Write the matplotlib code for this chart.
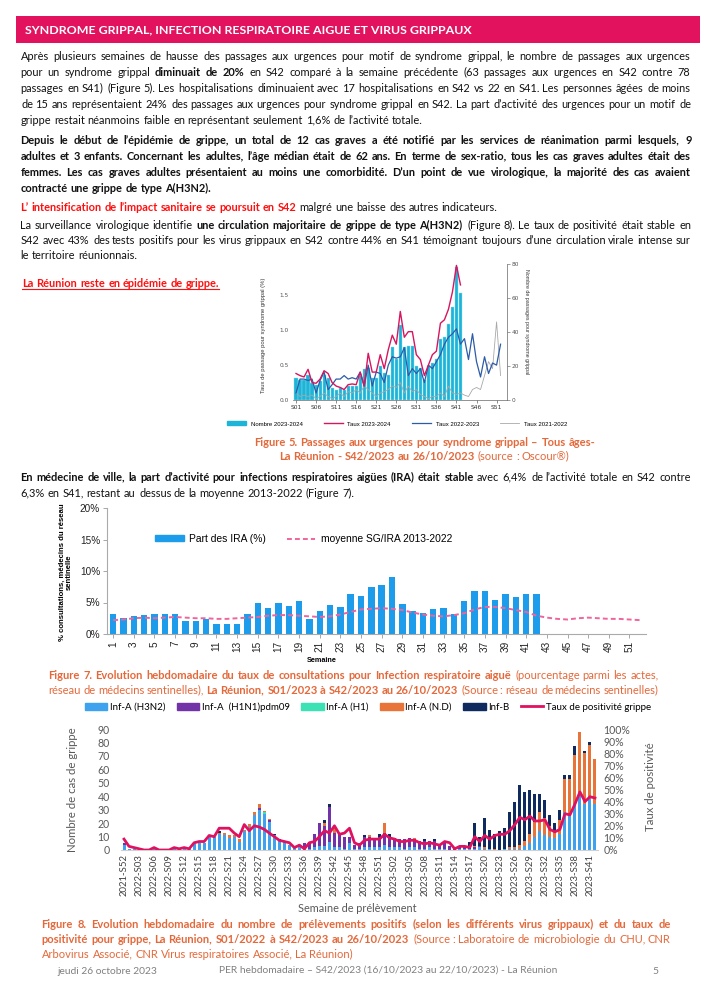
import matplotlib
matplotlib.use("Agg")
import matplotlib.pyplot as plt
import numpy as np
from matplotlib.patches import Rectangle, Patch
from matplotlib.lines import Line2D
from matplotlib.font_manager import FontProperties
from matplotlib.backends.backend_agg import get_hinting_flag

W, H = 707, 1000
BODY = "Lato"
ARIAL = "Liberation Sans"

# ---------------- Figure 5 data (Oscour) ----------------
f5_weeks = list(range(1, 53))
f5_ticks = ["S01", "S06", "S11", "S16", "S21", "S26", "S31", "S36", "S41", "S46", "S51"]
f5_tick_weeks = [1, 6, 11, 16, 21, 26, 31, 36, 41, 46, 51]
nombre_2324 = [13, 12, 12, 15, 10, 9, 11, 15, 13, 7, 6, 7, 6, 8, 8, 8, 14, 18, 19, 13,
               13, 20, 16, 15, 31, 24, 44, 31, 32, 32, 20, 19, 12, 20, 22, 24, 36, 37, 45, 55,
               78, 63]
taux_2324 = [0.38, 0.35, 0.33, 0.44, 0.25, 0.24, 0.30, 0.42, 0.38, 0.25, 0.20, 0.18, 0.15, 0.22,
             0.23, 0.22, 0.40, 0.20, 0.67, 0.40, 0.40, 0.65, 0.45, 0.72, 0.93, 0.80, 1.27, 0.90,
             0.98, 0.98, 0.65, 0.58, 0.35, 0.50, 0.65, 0.70, 1.10, 1.15, 1.30, 1.55, 1.93, 1.65]
taux_2223 = [0.10, 0.30, 0.30, 0.28, 0.30, 0.10, 0.28, 0.40, 0.15, 0.22, 0.30, 0.30, 0.35, 0.30,
             0.32, 0.30, 0.40, 0.20, 0.50, 0.20, 0.40, 0.38, 0.25, 0.50, 0.62, 0.60, 0.62, 0.75,
             0.35, 0.45, 0.38, 0.45, 0.25, 0.50, 0.45, 0.55, 0.65, 0.80, 0.90, 0.95, 1.02, 0.80,
             0.88, 0.58, 0.95, 0.55, 0.33, 0.62, 0.38, 0.53, 0.50, 0.80]
taux_2122 = [0.10, 0.05, 0.07, 0.05, 0.07, 0.02, 0.05, 0.10, 0.05, 0.02, 0.05, 0.10, 0.05, 0.12,
             0.10, 0.15, 0.10, 0.20, 0.15, 0.10, 0.05, 0.10, 0.12, 0.15, 0.20, 0.18, 0.25, 0.10,
             0.20, 0.12, 0.15, 0.08, 0.05, 0.02, 0.05, 0.05, 0.10, 0.05, 0.20, 0.10, 0.08, 0.10,
             0.07, 0.05, 0.15, 0.18, 0.15, 0.35, 0.55, 0.45, 1.12, 0.35]

# ---------------- Figure 7 data (IRA) ----------------
f7_weeks = list(range(1, 53))
part_ira = [3.1, 2.5, 2.8, 3.0, 3.1, 3.1, 3.1, 2.1, 2.1, 2.4, 1.6, 1.6, 1.6, 3.1, 4.9, 4.2,
            5.0, 4.4, 5.2, 2.4, 3.6, 4.6, 4.3, 6.4, 6.0, 7.5, 7.7, 9.0, 4.7, 3.6, 3.3, 3.9,
            4.1, 3.1, 5.3, 6.9, 6.8, 5.4, 6.4, 5.9, 6.3, 6.4]
moyenne_ira = [2.2, 2.3, 2.5, 2.6, 2.5, 2.6, 2.7, 2.6, 2.5, 2.5, 2.4, 2.4, 2.5, 2.6, 2.7, 2.9,
               3.0, 3.0, 2.9, 2.8, 2.7, 2.8, 3.1, 3.5, 3.9, 4.0, 4.1, 4.0, 3.8, 3.4, 3.1, 2.9,
               2.8, 3.0, 3.3, 3.9, 4.3, 4.3, 4.1, 3.8, 3.5, 2.9, 2.6, 2.4, 2.3, 2.5, 2.6, 2.5,
               2.4, 2.4, 2.3, 2.2]

# ---------------- Figure 8 data (virology) ----------------
f8_labels = (["2021-S52"] + ["2022-S%02d" % w for w in range(1, 53)]
             + ["2023-S%02d" % w for w in range(1, 43)])
h3n2 = [4, 1, 1, 0, 0, 0, 1, 0, 0, 0,
        1, 1, 1, 1, 5, 5, 5, 10, 10, 12,
        11, 9, 10, 6, 14, 17, 26, 30, 27, 21,
        11, 7, 6, 4, 3, 3, 1, 1, 2, 3,
        3, 6, 2, 2, 1, 5, 1, 1, 2, 2,
        2, 2, 4, 2, 2, 2, 1, 2, 2, 1,
        1, 2, 1, 1, 1, 0, 0, 1, 1, 1,
        1, 2, 1, 1, 0, 0, 1, 1, 1, 1,
        3, 5, 10, 14, 11, 10, 9, 12, 28, 27,
        34, 43, 34, 38, 34]
h1n1 = [1, 0, 0, 0, 0, 0, 0, 0, 0, 0,
        0, 0, 0, 0, 0, 0, 0, 0, 0, 0,
        0, 0, 0, 0, 0, 0, 0, 1, 0, 1,
        0, 0, 0, 0, 0, 1, 4, 5, 10, 17,
        15, 26, 11, 10, 9, 5, 3, 4, 8, 8,
        6, 8, 9, 8, 7, 6, 7, 7, 6, 6,
        6, 5, 6, 3, 5, 3, 1, 1, 1, 0,
        1, 1, 0, 0, 0, 0, 0, 0, 0, 0,
        0, 0, 0, 0, 0, 0, 0, 0, 0, 0,
        0, 0, 0, 0, 0]
h1 = [0] * 28 + [1] + [0] * 66
nd = [0, 0, 0, 0, 0, 0, 0, 0, 0, 0,
      0, 0, 0, 0, 0, 0, 0, 0, 0, 1,
      2, 2, 1, 2, 1, 2, 2, 3, 1, 1,
      0, 0, 0, 0, 0, 0, 0, 0, 0, 0,
      2, 0, 4, 0, 0, 0, 0, 0, 0, 1,
      0, 0, 7, 0, 0, 0, 0, 0, 1, 0,
      0, 0, 0, 0, 0, 0, 0, 0, 0, 0,
      1, 0, 1, 0, 1, 0, 0, 1, 1, 3,
      4, 7, 11, 14, 13, 8, 5, 10, 25, 26,
      37, 45, 38, 40, 34]
infb = [0, 0, 0, 0, 0, 0, 0, 0, 0, 0,
        0, 0, 0, 0, 0, 0, 0, 0, 0, 1,
        0, 0, 0, 0, 0, 0, 0, 0, 0, 0,
        1, 1, 0, 0, 0, 0, 0, 0, 0, 0,
        2, 2, 0, 0, 0, 0, 0, 0, 1, 0,
        0, 2, 0, 2, 0, 0, 0, 0, 0, 0,
        1, 0, 1, 0, 0, 0, 0, 0, 1, 5,
        17, 7, 22, 14, 11, 14, 15, 26, 34, 44,
        36, 33, 21, 14, 13, 8, 6, 8, 3, 3,
        6, 0, 2, 2, 0]
taux_pos = [9, 3, 2, 1, 0, 0, 2, 0, 0, 0,
            2, 1, 2, 1, 6, 7, 7, 12, 11, 18,
            18, 18, 14, 11, 21, 16, 20, 19, 17, 14,
            11, 8, 7, 6, 2, 4, 1, 6, 7, 11,
            16, 14, 20, 13, 14, 18, 6, 4, 8, 9,
            9, 9, 13, 10, 9, 7, 7, 8, 8, 6,
            5, 6, 5, 4, 7, 6, 1, 3, 3, 2,
            11, 7, 12, 9, 12, 13, 13, 16, 21, 27,
            25, 28, 24, 24, 25, 17, 15, 17, 30, 29,
            38, 48, 40, 44, 43]

# ---------------- text content ----------------
TITLE = "SYNDROME GRIPPAL, INFECTION RESPIRATOIRE AIGUE ET VIRUS GRIPPAUX"
PARA1 = [
    [("Après plusieurs semaines de hausse des passages aux urgences pour motif de syndrome grippal, le nombre de passages aux urgences", "n")],
    [("pour un syndrome grippal", "n"), ("diminuait de 20%", "b"), ("en S42 comparé à la semaine précédente (63 passages aux urgences en S42 contre 78", "n")],
    [("passages en S41) (Figure 5). Les hospitalisations diminuaient avec 17 hospitalisations en S42 vs 22 en S41. Les personnes âgées de moins", "n")],
    [("de 15 ans représentaient 24% des passages aux urgences pour syndrome grippal en S42. La part d’activité des urgences pour un motif de", "n")],
    [("grippe restait néanmoins faible en représentant seulement 1,6% de l’activité totale.", "n")],
]
PARA2 = [
    [("Depuis le début de l’épidémie de grippe, un total de 12 cas graves a été notifié par les services de réanimation parmi lesquels, 9", "b")],
    [("adultes et 3 enfants. Concernant les adultes, l’âge médian était de 62 ans. En terme de sex-ratio, tous les cas graves adultes était des", "b")],
    [("femmes. Les cas graves adultes présentaient au moins une comorbidité. D’un point de vue virologique, la majorité des cas avaient", "b")],
    [("contracté une grippe de type A(H3N2).", "b")],
]
PARA_RED = [[("L’ intensification de l’impact sanitaire se poursuit en S42", "r"), ("malgré une baisse des autres indicateurs.", "n")]]
PARA3 = [
    [("La surveillance virologique identifie", "n"), ("une circulation majoritaire de grippe de type A(H3N2)", "b"), ("(Figure 8). Le taux de positivité était stable en", "n")],
    [("S42 avec 43% des tests positifs pour les virus grippaux en S42 contre 44% en S41 témoignant toujours d’une circulation virale intense sur", "n")],
    [("le territoire réunionnais.", "n")],
]
REUNION = [[("La Réunion reste en épidémie de grippe.", "r")]]
CAP5 = [
    [("Figure 5. Passages aux urgences pour syndrome grippal – Tous âges-", "cb")],
    [("La Réunion - S42/2023 au 26/10/2023", "cb"), ("(source : Oscour®)", "cn")],
]
PARA_IRA = [
    [("En médecine de ville, la part d’activité pour infections respiratoires aigües (IRA) était stable", "b"), ("avec 6,4% de l’activité totale en S42 contre", "n")],
    [("6,3% en S41, restant au dessus de la moyenne 2013-2022 (Figure 7).", "n")],
]
CAP7 = [
    [("Figure 7. Evolution hebdomadaire du taux de consultations pour Infection respiratoire aiguë", "cb"), ("(pourcentage parmi les actes,", "cn")],
    [("réseau de médecins sentinelles),", "cn"), ("La Réunion, S01/2023 à S42/2023 au 26/10/2023", "cb"), ("(Source : réseau de médecins sentinelles)", "cn")],
]
CAP8 = [
    [("Figure 8. Evolution hebdomadaire du nombre de prélèvements positifs (selon les différents virus grippaux) et du taux de", "cb")],
    [("positivité pour grippe, La Réunion, S01/2022 à S42/2023 au 26/10/2023", "cb"), ("(Source : Laboratoire de microbiologie du CHU, CNR", "cn")],
    [("Arbovirus Associé, CNR Virus respiratoires Associé, La Réunion)", "cn")],
]

ORANGE = "#E5683A"
STY = {
    "n": ("normal", "#111111"),
    "b": ("bold", "#111111"),
    "r": ("bold", "#FF1010"),
    "cb": ("bold", ORANGE),
    "cn": ("normal", ORANGE),
}

fig = plt.figure(figsize=(W / 100, H / 100), dpi=100)
fig.patch.set_facecolor("white")
page = fig.add_axes([0, 0, 1, 1], zorder=-5)
page.set_xlim(0, W)
page.set_ylim(H, 0)
page.axis("off")
renderer = fig.canvas.get_renderer()

_cache = {}
_ecache = {}


def twidth(s, fs, weight):
    key = (s, fs, weight)
    if key not in _cache:
        t = page.text(0, 0, s, fontsize=fs, fontweight=weight, family=BODY)
        _cache[key] = t.get_window_extent(renderer).width
        t.remove()
    return _cache[key]


def agg_metrics(s, fs, weight):
    key = (s, fs, weight)
    if key not in _ecache:
        try:
            prop = FontProperties(family=BODY, size=fs, weight=weight)
            font = renderer._prepare_font(prop)
            font.set_text(s, 0, flags=get_hinting_flag())
            w, h = font.get_width_height()
            d = font.get_descent()
            xo = font.get_bitmap_offset()[0]
            _ecache[key] = (h / 64.0, d / 64.0, xo / 64.0)
        except Exception:
            _ecache[key] = None
    return _ecache[key]


def snap(x, y, s, fs, weight):
    """Integer anchor that compensates the Agg bitmap rounding, so that all
    words of a line sit on the same baseline."""
    X = int(round(x))
    B = int(round(y))
    m = agg_metrics(s, fs, weight)
    if m is None:
        return X, B
    hh, dd, xo = m
    a = hh - dd
    e = round(B + dd) - B - np.floor(hh) + np.floor(a)
    ex = round(X + xo) - X - np.ceil(xo)
    return X - ex, B - e


def space_w(fs):
    return twidth("n n", fs, "normal") - twidth("nn", fs, "normal")


def words_of(runs):
    out = []
    for txt, st in runs:
        for w in txt.split():
            out.append((w, st))
    return out


def natural(runs, fs):
    ws = words_of(runs)
    return sum(twidth(w, fs, STY[s][0]) for w, s in ws) + space_w(fs) * (len(ws) - 1)


def fit_fs(lines, width, fs_max):
    fs = fs_max
    while fs > 4 and max(natural(l, fs) for l in lines) > width:
        fs = round(fs - 0.05, 3)
    return fs


def draw_line(runs, x0, x1, yc, fs, mode="left"):
    ws = words_of(runs)
    wd = [twidth(w, fs, STY[s][0]) for w, s in ws]
    sp = space_w(fs)
    total = sum(wd) + sp * (len(ws) - 1)
    if mode == "justify" and len(ws) > 1:
        gap = (x1 - x0 - sum(wd)) / (len(ws) - 1)
        x = x0
    elif mode == "center":
        gap = sp
        x = (x0 + x1) / 2 - total / 2
    else:
        gap = sp
        x = x0
    xs = x
    yb = yc + 0.36 * fs * 100 / 72
    for (w, s), d in zip(ws, wd):
        X, B = snap(x, yb, w, fs, STY[s][0])
        page.text(X, B, w, fontsize=fs, fontweight=STY[s][0], color=STY[s][1],
                  family=BODY, va="baseline", ha="left")
        x += d + gap
    return xs, x - gap, round(yb)


def draw_par(lines, x0, x1, ys, fs, mode="justify", last="left"):
    out = []
    for i, (l, y) in enumerate(zip(lines, ys)):
        m = mode if i < len(lines) - 1 else last
        out.append(draw_line(l, x0, x1, y, fs, m))
    return out


# ---------------- header ----------------
page.add_patch(Rectangle((16, 16), 684, 27, facecolor="#E2125F", edgecolor="none"))
page.text(25, 29.5, TITLE, fontsize=8.9, fontweight="bold", color="white",
          family=BODY, va="center", ha="left")

# ---------------- body paragraphs ----------------
X0, X1 = 20, 690
fs_body = fit_fs(PARA1 + PARA2 + PARA3 + PARA_IRA, X1 - X0, 8.6)
draw_par(PARA1, X0, X1, [56, 72, 88, 104, 120], fs_body)
draw_par(PARA2, X0, X1, [140, 156, 172, 188], fs_body)
draw_par(PARA_RED, X0, X1, [207], fs_body)
draw_par(PARA3, X0, X1, [225, 240, 255], fs_body)
xs, xe, yb = draw_line(REUNION[0], 22, 400, 283, fs_body, "left")
page.plot([xs, xe], [yb + 2.2, yb + 2.2], color="#FF1010", lw=0.8)
draw_par(PARA_IRA, X0, X1, [477, 493], fs_body)

# captions
fs_cap = fit_fs(CAP7 + CAP8, 628, 8.4)
draw_par(CAP5, 280, 568, [442, 456], fs_cap, mode="center", last="center")
draw_par(CAP7, 48, 658, [675, 690], fs_cap, mode="justify", last="justify")
draw_par(CAP8, 41, 670, [924, 939, 954], fs_cap, mode="justify", last="left")

# footer
page.text(57, 972, "jeudi 26 octobre 2023", fontsize=7.4, color="#808080", family=BODY, va="center")
page.text(388, 970, "PER hebdomadaire – S42/2023 (16/10/2023 au 22/10/2023) - La Réunion",
          fontsize=7.4, color="#808080", family=BODY, va="center", ha="center")
page.text(655, 972, "5", fontsize=7.4, color="#808080", family=BODY, va="center", ha="center")


def frac(x0, y0, x1, y1):
    return [x0 / W, 1 - y1 / H, (x1 - x0) / W, (y1 - y0) / H]


# ---------------- Figure 5 ----------------
ax5 = fig.add_axes(frac(293, 264, 507, 400))
ax5t = ax5.twinx()
ax5.bar(f5_weeks[:len(nombre_2324)], nombre_2324, width=0.78, color="#1DB4D8",
        edgecolor="#8EDCEE", linewidth=0.3, zorder=2)
ax5.set_ylim(0, 80)
ax5.set_xlim(0.25, 53.6)
ax5.set_yticks([0, 20, 40, 60, 80])
ax5.tick_params(axis="y", labelsize=4.2, colors="#555555", length=2, width=0.4, pad=1.5,
                left=False, labelleft=False, right=True, labelright=True)
ax5.set_xticks(f5_tick_weeks)
ax5.set_xticklabels(f5_ticks)
ax5.tick_params(axis="x", labelsize=4.3, colors="#333333", length=2, width=0.4, pad=1.5)
for s in ["top", "left"]:
    ax5.spines[s].set_visible(False)
for s in ["right", "bottom"]:
    ax5.spines[s].set_color("#666666")
    ax5.spines[s].set_linewidth(0.5)
ax5t.set_ylim(0, 1.95)
ax5t.plot(f5_weeks, taux_2122, color="#A8A8A8", lw=0.6)
ax5t.plot(f5_weeks, taux_2223, color="#2C5CA8", lw=0.9)
ax5t.plot(f5_weeks[:len(taux_2324)], taux_2324, color="#D6165E", lw=1.0)
ax5t.set_yticks([0.0, 0.5, 1.0, 1.5])
ax5t.set_yticklabels(["0.0", "0.5", "1.0", "1.5"])
ax5t.tick_params(axis="y", labelsize=4.2, colors="#555555", length=0, pad=3,
                 left=True, labelleft=True, right=False, labelright=False)
for s in ax5t.spines.values():
    s.set_visible(False)
page.text(264, 335, "Taux de passage pour syndrome grippal (%)", rotation=90, fontsize=4.2,
          family=ARIAL, color="#333333", ha="center", va="center")
page.text(527, 322, "Nombre de passages pour syndrome grippal", rotation=-90, fontsize=3.8,
          family=ARIAL, color="#333333", ha="center", va="center")
h5 = [Patch(color="#1DB4D8"), Line2D([], [], color="#D6165E", lw=1.0),
      Line2D([], [], color="#2C5CA8", lw=0.9), Line2D([], [], color="#A8A8A8", lw=0.6)]
fig.legend(h5, ["Nombre 2023-2024", "Taux 2023-2024", "Taux 2022-2023", "Taux 2021-2022"],
           loc="center", bbox_to_anchor=(397 / W, 1 - 424 / H), ncol=4, frameon=False,
           prop={"family": ARIAL, "size": 4.3}, handlelength=3.2, handleheight=0.6,
           columnspacing=3.5, handletextpad=0.8)

# ---------------- Figure 7 ----------------
ax7 = fig.add_axes(frac(107, 508, 646, 634))
ax7.bar(f7_weeks[:len(part_ira)], part_ira, width=0.62, color="#1C9CEB", zorder=2)
ax7.plot(f7_weeks, moyenne_ira, color="#F0649C", lw=1.4, ls=(0, (2.5, 1.6)), zorder=3)
ax7.set_xlim(0.4, 52.6)
ax7.set_ylim(0, 20)
ax7.set_yticks([0, 5, 10, 15, 20])
ax7.set_yticklabels(["0%", "5%", "10%", "15%", "20%"], family=ARIAL)
ax7.set_xticks(list(range(1, 53, 2)))
ax7.set_xticklabels([str(w) for w in range(1, 53, 2)], rotation=90, family=ARIAL)
ax7.tick_params(axis="both", labelsize=7.2, colors="#222222", length=3, width=0.6, pad=2)
ax7.tick_params(axis="both", color="#999999")
for s in ["top", "right"]:
    ax7.spines[s].set_visible(False)
for s in ["left", "bottom"]:
    ax7.spines[s].set_color("#AAAAAA")
    ax7.spines[s].set_linewidth(0.8)
page.text(66, 572, "% consultations, médecins du réseau\nsentinelle", rotation=90, fontsize=5.6,
          fontweight="bold", family=ARIAL, ha="center", va="center", linespacing=1.0)
page.text(322, 661, "Semaine", fontsize=5.2, fontweight="bold", family=ARIAL, ha="center", va="center")
h7 = [Patch(color="#1C9CEB"), Line2D([], [], color="#F0649C", lw=1.4, ls=(0, (2.5, 1.6)))]
fig.legend(h7, ["Part des IRA (%)", "moyenne SG/IRA 2013-2022"], loc="center left",
           bbox_to_anchor=(146 / W, 1 - 539 / H), ncol=2, frameon=False,
           prop={"family": ARIAL, "size": 7.4}, handlelength=2.8, handleheight=0.55,
           columnspacing=2.0, handletextpad=0.5)

# ---------------- Figure 8 ----------------
C_H3N2, C_H1N1, C_H1, C_ND, C_B, C_TP = "#3FA2EE", "#7232A8", "#3DE2B4", "#E8743A", "#0E2A5E", "#E0115F"
ax8 = fig.add_axes(frac(121, 729, 598, 850))
x8 = np.arange(len(f8_labels))
bottom = np.zeros(len(x8))
for vals, col in [(h3n2, C_H3N2), (h1n1, C_H1N1), (h1, C_H1), (nd, C_ND), (infb, C_B)]:
    v = np.array(vals, dtype=float)
    ax8.bar(x8, v, width=0.6, bottom=bottom, color=col, zorder=2)
    bottom += v
ax8.set_xlim(-0.6, len(x8) - 0.4)
ax8.set_ylim(0, 90)
ax8.set_yticks(range(0, 91, 10))
ax8.set_xticks(x8[::3])
ax8.set_xticklabels(f8_labels[::3], rotation=90, family=BODY)
ax8.tick_params(axis="x", labelsize=6.9, colors="#404040", length=0, pad=3)
ax8.tick_params(axis="y", labelsize=7.6, colors="#595959", length=0, pad=8)
for lab in ax8.get_yticklabels():
    lab.set_family(BODY)
for s in ["top", "right", "left"]:
    ax8.spines[s].set_visible(False)
ax8.spines["bottom"].set_color("#D0D0D0")
ax8.spines["bottom"].set_linewidth(0.8)
ax8r = ax8.twinx()
ax8r.plot(x8, taux_pos, color=C_TP, lw=2.0, zorder=3)
ax8r.set_ylim(0, 100)
ax8r.set_yticks(range(0, 101, 10))
ax8r.set_yticklabels(["%d%%" % v for v in range(0, 101, 10)], family=BODY)
ax8r.tick_params(axis="y", labelsize=7.6, colors="#595959", length=0, pad=4)
for s in ax8r.spines.values():
    s.set_visible(False)
page.text(72, 790, "Nombre de cas de grippe", rotation=90, fontsize=8.2, color="#595959",
          family=BODY, ha="center", va="center")
page.text(651, 787, "Taux de positivité", rotation=90, fontsize=8.2, color="#595959",
          family=BODY, ha="center", va="center")
page.text(357, 908, "Semaine de prélèvement", fontsize=7.8, color="#595959",
          family=BODY, ha="center", va="center")
h8 = [Patch(color=C_H3N2), Patch(color=C_H1N1), Patch(color=C_H1), Patch(color=C_ND),
      Patch(color=C_B), Line2D([], [], color=C_TP, lw=2.0)]
fig.legend(h8, ["Inf-A (H3N2)", "Inf-A  (H1N1)pdm09", "Inf-A (H1)", "Inf-A (N.D)", "Inf-B",
                "Taux de positivité grippe"],
           loc="center", bbox_to_anchor=(368 / W, 1 - 707 / H), ncol=6, frameon=False,
           prop={"family": BODY, "size": 7.0}, handlelength=2.3, handleheight=0.8,
           columnspacing=1.2, handletextpad=0.25)

fig.savefig("out.png", dpi=100, facecolor="white")
